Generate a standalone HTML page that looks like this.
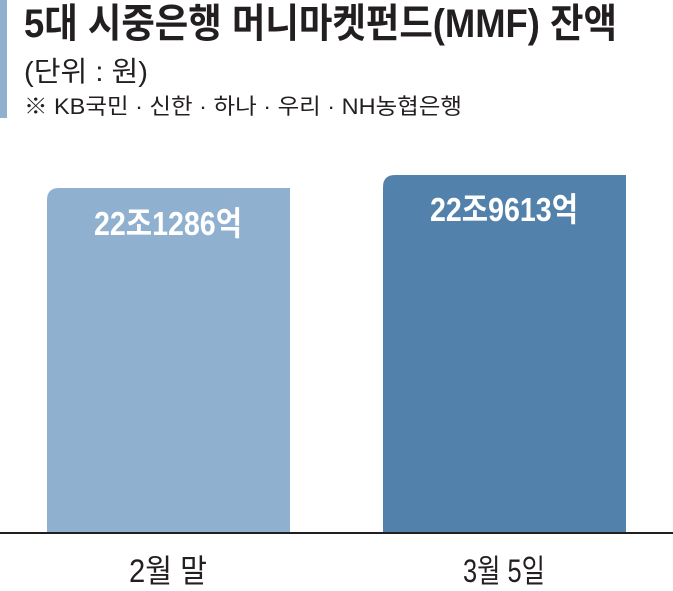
<!DOCTYPE html>
<html><head><meta charset="utf-8"><style>
html,body{margin:0;padding:0;background:#fff;}
svg{display:block;}
text{font-family:"Liberation Sans","Noto Sans CJK KR",sans-serif;}
</style></head><body>
<svg width="673" height="591" viewBox="0 0 673 591" xmlns="http://www.w3.org/2000/svg">
<rect x="0" y="0" width="7" height="118" fill="#8fb0cf"/>
<text x="24" y="37" font-size="40" font-weight="bold" fill="#231f20" textLength="593" lengthAdjust="spacingAndGlyphs">5대 시중은행 머니마켓펀드(MMF) 잔액</text>
<text x="24" y="81" font-size="28" fill="#231f20" textLength="124" lengthAdjust="spacingAndGlyphs">(단위 : 원)</text>
<text x="24" y="114" font-size="22" fill="#231f20" textLength="438" lengthAdjust="spacingAndGlyphs">※ KB국민 · 신한 · 하나 · 우리 · NH농협은행</text>
<path d="M47 533 V200 Q47 188 59 188 H290 V533 Z" fill="#8fb0cf"/>
<path d="M383 533 V187 Q383 175 395 175 H626 V533 Z" fill="#5282ab"/>
<text x="168" y="235" font-size="33" font-weight="bold" fill="#fff" text-anchor="middle" textLength="148" lengthAdjust="spacingAndGlyphs">22조1286억</text>
<text x="504" y="221" font-size="33" font-weight="bold" fill="#fff" text-anchor="middle" textLength="148" lengthAdjust="spacingAndGlyphs">22조9613억</text>
<rect x="0" y="532" width="673" height="2" fill="#231f20"/>
<text x="168" y="582" font-size="32" fill="#231f20" text-anchor="middle" textLength="78" lengthAdjust="spacingAndGlyphs">2월 말</text>
<text x="504" y="582" font-size="32" fill="#231f20" text-anchor="middle" textLength="82" lengthAdjust="spacingAndGlyphs">3월 5일</text>
</svg>
</body></html>
